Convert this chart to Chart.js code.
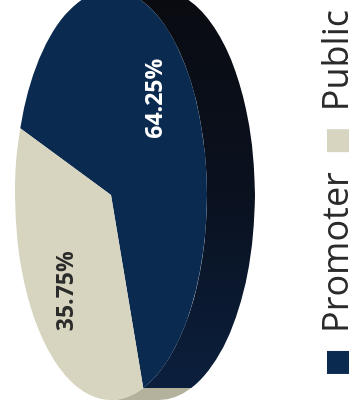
<!DOCTYPE html>
<html>
<head>
<meta charset="utf-8">
<script src="https://cdn.jsdelivr.net/npm/chart.js@4"></script>
<style>
  html, body { margin: 0; padding: 0; background: #fff; overflow: hidden; width: 353px; height: 412px; }
  /* chart is laid out landscape, then turned a quarter left like the original */
  #wrap { position: absolute; left: 0; top: 0; width: 422px; height: 366px; transform-origin: 0 0; transform: translate(0, 412px) rotate(-90deg); }
  canvas { display: block; }
</style>
</head>
<body>
<div id="wrap"><canvas id="pie" width="422" height="366"></canvas></div>
<script>
const holders = ['Promoter', 'Public'];
const holding = [64.25, 35.75];

const faceColors = ['#0b2a50', '#d7d5bf'];
const sideColors = [['#0b203f', '#0a111f', '#090b10'], ['#b4b29d', '#a3a18c']];
const labelColors = ['#ffffff', '#2b2b2b'];

// Squash the round pie into an ellipse and give it a thickness
const pie3d = {
  id: 'pie3d',
  beforeDatasetsDraw(chart, args, opts) {
    const meta = chart.getDatasetMeta(0);
    if (!meta.data.length) return;
    const { ctx, chartArea } = chart;
    const first = meta.data[0];
    const R = first.outerRadius;
    const rx = (chartArea.right - chartArea.left) / 2;
    const ry = rx * opts.tilt;
    const cx = (chartArea.left + chartArea.right) / 2;
    const cy = chartArea.top + ry;
    chart.$pie3d = { R, cx, cy, sx: rx / R, sy: ry / R };

    ctx.save();
    ctx.translate(cx, cy);
    ctx.scale(rx / R, ry / R);
    ctx.translate(-first.x, -first.y);

    const depth = opts.depth / (ry / R);
    // only the near half of the rim (0..PI) can be seen
    meta.data.forEach((el, i) => {
      [[0, Math.PI], [2 * Math.PI, 3 * Math.PI], [-2 * Math.PI, -Math.PI]].forEach(([lo, hi]) => {
        const a = Math.max(el.startAngle, lo);
        const b = Math.min(el.endAngle, hi);
        if (b <= a) return;
        const grad = ctx.createLinearGradient(el.x - R, 0, el.x + R, 0);
        const stops = opts.sideColors[i];
        stops.forEach((c, k) => grad.addColorStop(k / (stops.length - 1), c));
        ctx.beginPath();
        ctx.arc(el.x, el.y, R, a, b);
        ctx.arc(el.x, el.y + depth, R, b, a, true);
        ctx.closePath();
        ctx.fillStyle = grad;
        ctx.fill();
      });
    });
  },
  afterDatasetsDraw(chart) {
    if (chart.$pie3d) chart.ctx.restore();
  }
};

// percentage text on each slice
const sliceLabels = {
  id: 'sliceLabels',
  afterDatasetsDraw(chart, args, opts) {
    const g = chart.$pie3d;
    if (!g) return;
    const ctx = chart.ctx;
    ctx.save();
    ctx.font = opts.font;
    ctx.textAlign = 'center';
    ctx.textBaseline = 'middle';
    chart.getDatasetMeta(0).data.forEach((el, i) => {
      const mid = (el.startAngle + el.endAngle) / 2;
      const px = g.cx + Math.cos(mid) * g.R * opts.radius * g.sx;
      const py = g.cy + Math.sin(mid) * g.R * opts.radius * g.sy;
      ctx.fillStyle = opts.colors[i];
      ctx.fillText(holding[i].toFixed(2) + '%', px, py);
    });
    ctx.restore();
  }
};

new Chart(document.getElementById('pie'), {
  type: 'pie',
  data: {
    labels: holders,
    datasets: [{
      data: holding,
      backgroundColor: faceColors,
      borderWidth: 0,
      rotation: 19,
      clip: false
    }]
  },
  options: {
    responsive: false,
    animation: false,
    events: [],
    layout: { padding: { left: 12, top: 15, right: 0, bottom: 0 } },
    plugins: {
      legend: {
        position: 'bottom',
        align: 'end',
        labels: {
          boxWidth: 23,
          boxHeight: 22,
          padding: 20,
          color: '#2b2b2b',
          font: { family: 'Open Sans', size: 36 }
        }
      },
      tooltip: { enabled: false },
      pie3d: { tilt: 0.468, depth: 48, sideColors: sideColors },
      sliceLabels: { radius: 0.66, colors: labelColors, font: 'bold 23px "Open Sans"' }
    }
  },
  plugins: [pie3d, sliceLabels]
});
</script>
</body>
</html>
